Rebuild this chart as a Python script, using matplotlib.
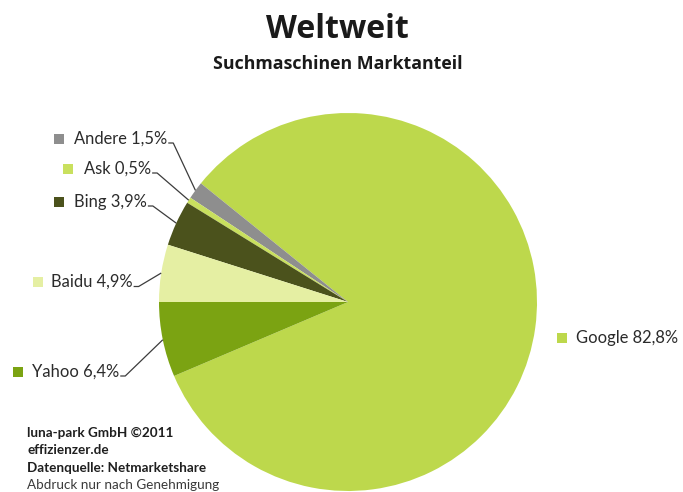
import matplotlib
matplotlib.use("Agg")
import matplotlib.pyplot as plt
import numpy as np

plt.rcParams['font.family'] = ['Lato', 'DejaVu Sans']

# Data (order as drawn counter-clockwise starting from Google)
names = ["Google", "Andere", "Ask", "Bing", "Baidu", "Yahoo"]
shares = [82.8, 1.5, 0.5, 3.9, 4.9, 6.4]
share_labels = ["82,8%", "1,5%", "0,5%", "3,9%", "4,9%", "6,4%"]
colors = ["#bdd84c", "#8e8e8e", "#c9e05e", "#4b521c", "#e5efa3", "#7ba312"]

W, H = 683, 492
fig = plt.figure(figsize=(W / 100, H / 100), dpi=100)
ax = fig.add_axes([0, 0, 1, 1])

cx, cy_px, R = 348, 302, 189
cy = H - cy_px
startangle = 180 + 360 * shares[-1] / 100  # Yahoo ends at the horizontal left line

wedges, _ = ax.pie(shares, colors=colors, startangle=startangle, counterclock=True,
                   center=(cx, cy), radius=R, frame=True,
                   wedgeprops=dict(linewidth=0))
ax.set_xlim(0, W)
ax.set_ylim(0, H)
ax.set_aspect('equal')
ax.axis('off')

# label layout (pixel positions: square x, text left x, text center y)
layout = {
    "Andere": (59, 74, 138.5),
    "Ask": (68, 84, 168.5),
    "Bing": (59, 74, 201.5),
    "Baidu": (38, 51, 282),
    "Yahoo": (18, 32, 371.5),
    "Google": (562, 576, 338),
}

fs = 11.9
renderer = fig.canvas.get_renderer()
for w, name, lab in zip(wedges, names, share_labels):
    sx, tx, ty = layout[name]
    ydat = H - ty
    ax.scatter([sx], [ydat], marker='s', s=55, color=w.get_facecolor(), linewidths=0, zorder=5)
    t = ax.text(tx, ydat, f"{name} {lab}", fontsize=fs, color="#2b2b2b",
                ha='left', va='center')
    if name == "Google":
        continue
    bb = t.get_window_extent(renderer=renderer)
    x_end = bb.x1 + 1
    mid = np.deg2rad((w.theta1 + w.theta2) / 2)
    px = cx + R * np.cos(mid)
    py = cy + R * np.sin(mid)
    yl = ydat - 4.5
    ax.plot([x_end, x_end + 5, px], [yl, yl, py], color="#3c3c3c", lw=0.9,
            solid_capstyle='butt', zorder=6)

# titles
ax.text(337, H - 29, "Weltweit", fontsize=23, fontweight='bold', color="#1a1a1a",
        ha='center', va='center', family=['Open Sans', 'DejaVu Sans'])
ax.text(337.5, H - 64, "Suchmaschinen Marktanteil", fontsize=12.8, fontweight='bold',
        color="#1a1a1a", ha='center', va='center', family=['Open Sans', 'DejaVu Sans'])

# footer
footer = [("luna-park GmbH ©2011", 'bold'), ("effizienzer.de", 'bold'),
          ("Datenquelle: Netmarketshare", 'bold'), ("Abdruck nur nach Genehmigung", 'normal')]
for i, (txt, wgt) in enumerate(footer):
    ax.text(27, H - (437 + i * 17.3), txt, fontsize=9.7, fontweight=wgt,
            color="#1f1f1f" if wgt == 'bold' else "#3a3a3a", ha='left', va='baseline')

fig.savefig("out.png", dpi=100)
